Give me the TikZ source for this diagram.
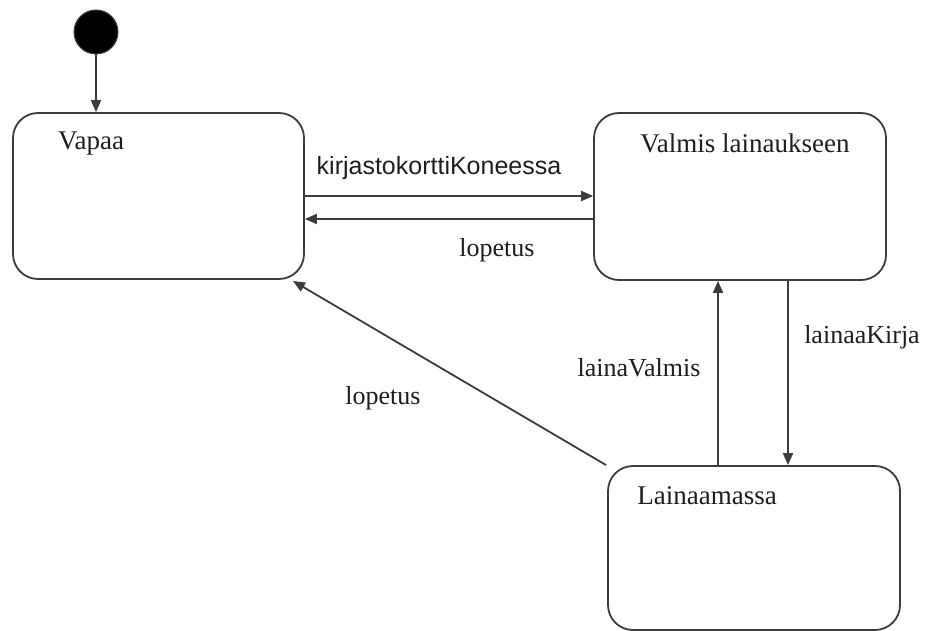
\documentclass[tikz,border=0pt]{standalone}
\usepackage{fontspec}
\setmainfont{Liberation Serif}
\newfontfamily\arialfont{Liberation Sans}
\usetikzlibrary{arrows.meta}
\definecolor{linegray}{HTML}{3C3C3C}
\definecolor{inkgray}{HTML}{1E1E1E}
\tikzset{
  statebox/.style={draw=linegray, line width=1.8pt, rounded corners=25pt,
    minimum width=#1, inner sep=0pt, fill=white},
  statename/.style={text=inkgray, font=\fontsize{27}{32}\selectfont, inner sep=0pt},
  evlabel/.style={text=inkgray, font=\fontsize{26}{31}\selectfont, inner sep=0pt},
  evsans/.style={text=inkgray, font=\arialfont\fontsize{25}{30}\selectfont, inner sep=0pt},
  trans/.style={draw=linegray, line width=1.8pt,
    -{Triangle[length=12pt,width=10pt]}},
  initial/.style={circle, fill=black, draw=linegray, line width=1pt,
    minimum size=44pt, inner sep=0pt}
}
\begin{document}
\begin{tikzpicture}[x=1pt,y=-1pt]
  \useasboundingbox (0,0) rectangle (927,631);

  % states
  \node[statebox=291pt, minimum height=166pt] (vapaa) at (158.5,196) {};
  \node[statebox=292pt, minimum height=167pt] (valmis) at (740,196.5) {};
  \node[statebox=292pt, minimum height=164pt] (laina) at (754,548) {};
  \node[initial] (init) at (96,32) {};

  % state names
  \node[statename] (vapaaT) at (91,144) {Vapaa};
  \node[statename] (valmisT) at (745,143) {Valmis lainaukseen};
  \node[statename] (lainaT) at (707,496) {Lainaamassa};

  % anchor columns / rows for the transitions
  \coordinate (xup) at (718,0);
  \coordinate (xdown) at (788,0);
  \coordinate (yright) at (0,196);
  \coordinate (yleft) at (0,219);
  \coordinate (diagEnd) at (293,281);

  % transitions
  \draw[trans] (init) -- (vapaa.north -| init);
  \draw[trans] (vapaa.east |- yright) -- (valmis.west |- yright);
  \draw[trans] (valmis.west |- yleft) -- (vapaa.east |- yleft);
  \draw[trans] (valmis.south -| xdown) -- (laina.north -| xdown);
  \draw[trans] (laina.north -| xup) -- (valmis.south -| xup);
  \draw[trans] ([xshift=-1pt]laina.north west) -- (diagEnd);

  % event labels
  \node[evsans] (kk) at (439,168) {kirjastokorttiKoneessa};
  \node[evlabel] (lop1) at (497,250) {lopetus};
  \node[evlabel] (lk) at (862,337) {lainaaKirja};
  \node[evlabel] (lv) at (639,368) {lainaValmis};
  \node[evlabel] (lop2) at (383,398) {lopetus};
\end{tikzpicture}
\end{document}
